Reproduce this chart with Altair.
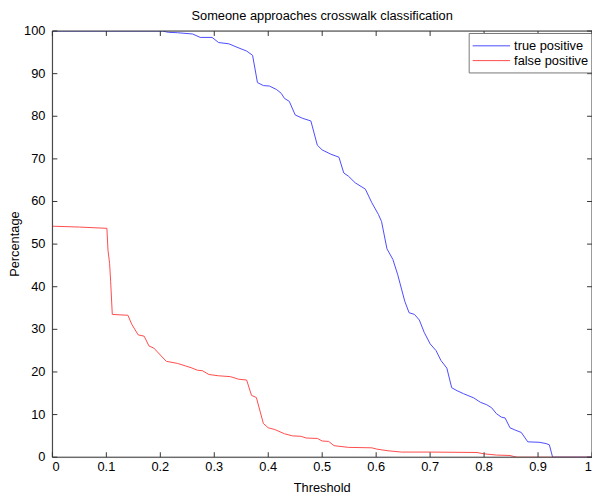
import altair as alt
import pandas as pd

# ---- data ----
tp_x = [0.0, 0.204, 0.215, 0.232, 0.260, 0.274, 0.296, 0.308, 0.327, 0.342, 0.360, 0.371,
        0.380, 0.391, 0.402, 0.415, 0.424, 0.430, 0.439, 0.450, 0.464, 0.479, 0.491, 0.500,
        0.516, 0.531, 0.540, 0.549, 0.561, 0.580, 0.592, 0.604, 0.610, 0.620, 0.631, 0.640,
        0.653, 0.661, 0.671, 0.680, 0.689, 0.700, 0.711, 0.720, 0.731, 0.740, 0.750, 0.762,
        0.781, 0.793, 0.805, 0.814, 0.823, 0.832, 0.839, 0.848, 0.857, 0.869, 0.881, 0.902,
        0.915, 0.921, 0.927, 1.0]
tp_y = [100, 100, 99.7, 99.6, 99.3, 98.5, 98.5, 97.3, 97.0, 96.2, 95.3, 94.3,
        87.9, 87.2, 87.1, 86.3, 85.4, 84.2, 83.5, 80.3, 79.5, 78.9, 73.2, 72.1,
        71.1, 70.4, 66.7, 65.9, 64.4, 62.9, 59.7, 57.0, 55.3, 48.9, 46.4, 42.8,
        36.6, 33.9, 33.5, 32.2, 29.3, 26.6, 25.0, 22.7, 20.9, 16.3, 15.6, 14.9,
        13.9, 12.9, 12.3, 11.6, 10.2, 9.4, 9.2, 6.9, 6.4, 5.8, 3.6, 3.5,
        3.2, 2.9, 0, 0]

fp_x = [0.0, 0.05, 0.101, 0.103, 0.106, 0.108, 0.111, 0.140, 0.147, 0.159, 0.170, 0.179,
        0.188, 0.211, 0.232, 0.257, 0.269, 0.278, 0.290, 0.308, 0.330, 0.345, 0.360, 0.369,
        0.378, 0.391, 0.400, 0.412, 0.430, 0.445, 0.461, 0.470, 0.491, 0.500, 0.512, 0.522,
        0.549, 0.592, 0.601, 0.622, 0.647, 0.701, 0.787, 0.799, 0.823, 0.848, 0.857, 0.862, 1.0]
fp_y = [54.2, 54.0, 53.7, 48.6, 45.5, 41.2, 33.5, 33.3, 31.2, 28.7, 28.4, 26.1,
        25.6, 22.5, 22.0, 21.0, 20.4, 20.3, 19.4, 19.1, 18.9, 18.3, 18.1, 14.5,
        14.0, 7.9, 6.9, 6.5, 5.5, 5.0, 4.9, 4.5, 4.4, 3.8, 3.7, 2.7,
        2.3, 2.2, 1.9, 1.5, 1.2, 1.2, 1.1, 0.8, 0.5, 0.4, 0.1, 0, 0]

series_names = ["true positive", "false positive"]
series_colors = ["#4a4aff", "#ff4a4a"]
x_ticks = [0, 0.1, 0.2, 0.3, 0.4, 0.5, 0.6, 0.7, 0.8, 0.9, 1.0]
y_ticks = [0, 10, 20, 30, 40, 50, 60, 70, 80, 90, 100]

FONT = "Liberation Sans"
W, H = 547, 432
AX = "#333333"

df = pd.concat([
    pd.DataFrame({"threshold": tp_x, "pct": tp_y, "series": series_names[0]}),
    pd.DataFrame({"threshold": fp_x, "pct": fp_y, "series": series_names[1]}),
])
xt = pd.DataFrame({"t": x_ticks})
yt = pd.DataFrame({"t": y_ticks})

xs = alt.Scale(domain=[0, 1], nice=False, zero=False)
ys = alt.Scale(domain=[0, 100], nice=False)

lines = alt.Chart(df).mark_line(strokeWidth=1, clip=True).encode(
    x=alt.X("threshold:Q", scale=xs,
            axis=alt.Axis(orient="bottom", values=x_ticks, format="~g", ticks=False,
                          grid=False, domain=True, domainColor=AX, labelPadding=4,
                          labelFont=FONT, labelFontSize=13, labelColor="black",
                          title="Threshold", titleFont=FONT, titleFontSize=13,
                          titleFontWeight="normal", titleColor="black", titlePadding=8,
                          translate=0, zindex=1)),
    y=alt.Y("pct:Q", scale=ys,
            axis=alt.Axis(orient="left", values=y_ticks, format="d", ticks=False,
                          grid=False, domain=True, domainColor=AX, labelPadding=7,
                          labelFont=FONT, labelFontSize=13, labelColor="black",
                          title="Percentage", titleFont=FONT, titleFontSize=13,
                          titleFontWeight="normal", titleColor="black", titlePadding=2,
                          translate=0, zindex=1)),
    color=alt.Color("series:N",
                    scale=alt.Scale(domain=series_names, range=series_colors),
                    legend=alt.Legend(orient="none", legendX=422, legendY=2, title=None,
                                      fillColor="white", strokeColor="#777777",
                                      padding=5, rowPadding=0,
                                      symbolType="M-2.53,0H2.53", symbolSize=225,
                                      symbolOffset=10, symbolStrokeWidth=1,
                                      labelFont=FONT, labelFontSize=13,
                                      labelColor="black", labelOffset=15)),
    order=alt.Order("threshold:Q"),
)

bottom_ticks = alt.Chart(xt).mark_rule(color=AX, strokeWidth=1).encode(
    x=alt.X("t:Q", scale=xs, axis=None), y=alt.value(H), y2=alt.value(H - 5))

top_ticks = alt.Chart(xt).mark_rule(color=AX, strokeWidth=1).encode(
    x=alt.X("t:Q", scale=xs,
            axis=alt.Axis(orient="top", labels=False, ticks=False, grid=False,
                          domain=True, domainColor=AX, title=None, translate=0,
                          zindex=1)),
    y=alt.value(0), y2=alt.value(5))

left_ticks = alt.Chart(yt).mark_rule(color=AX, strokeWidth=1).encode(
    y=alt.Y("t:Q", scale=ys, axis=None), x=alt.value(0), x2=alt.value(5))

right_ticks = alt.Chart(yt).mark_rule(color=AX, strokeWidth=1).encode(
    y=alt.Y("t:Q", scale=ys,
            axis=alt.Axis(orient="right", labels=False, ticks=False, grid=False,
                          domain=True, domainColor=AX, title=None, translate=0,
                          zindex=1)),
    x=alt.value(W), x2=alt.value(W - 5))

chart = alt.layer(lines, bottom_ticks, top_ticks, left_ticks, right_ticks).resolve_axis(
    x="independent", y="independent"
).properties(
    width=W, height=H,
    title=alt.TitleParams("Someone approaches crosswalk classification", font=FONT,
                          fontSize=13, fontWeight="normal", color="black", offset=2,
                          anchor="middle"),
    autosize=alt.AutoSizeParams(type="none"),
    padding={"left": 45, "top": 20, "right": 0, "bottom": 36},
).configure_view(stroke=None).configure(background="white")

chart.save("out.html", embed_options={"renderer": "svg", "actions": False})
